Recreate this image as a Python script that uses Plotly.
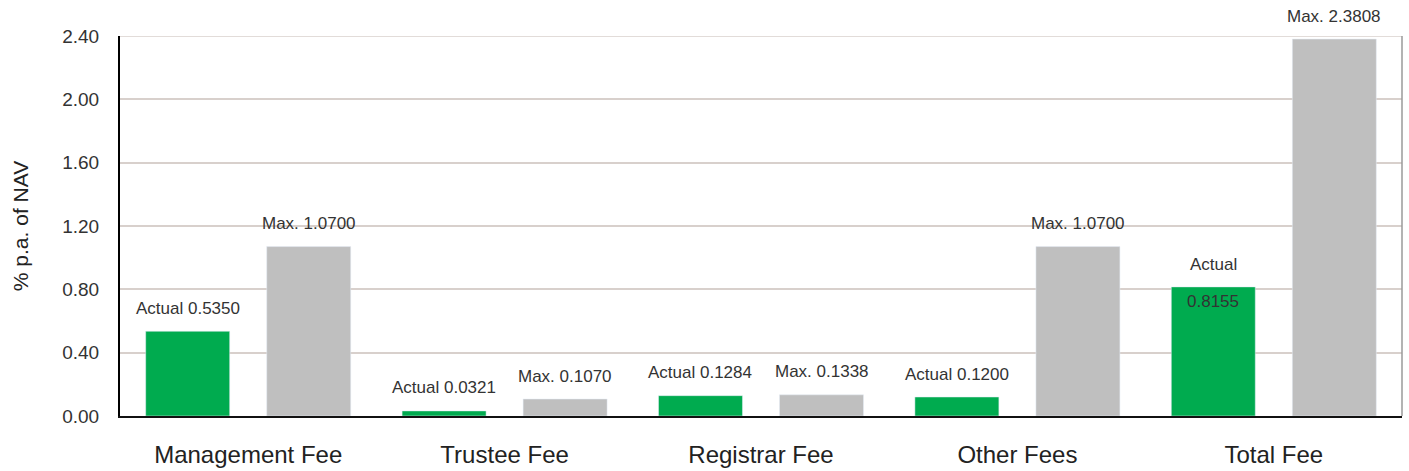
import plotly.graph_objects as go

# Fee categories and rates (% p.a. of NAV)
categories = ["Management Fee", "Trustee Fee", "Registrar Fee", "Other Fees", "Total Fee"]
actual_fees = [0.5350, 0.0321, 0.1284, 0.1200, 0.8155]
max_fees = [1.0700, 0.1070, 0.1338, 1.0700, 2.3808]
y_ticks = [0.0, 0.4, 0.8, 1.2, 1.6, 2.0, 2.4]

GREEN = "#00AB4F"
GREY = "#BFBFBF"
FONT = "Liberation Sans, Arial, sans-serif"
BARGAP = 0.056
BARGROUPGAP = 0.306

fig = go.Figure()
fig.add_trace(go.Bar(x=categories, y=actual_fees, marker_color=GREEN, name="Actual"))
fig.add_trace(go.Bar(x=categories, y=max_fees, marker_color=GREY, name="Max."))

# value labels above each bar
half_slot = (1 - BARGAP) / 4
annotations = []
for i, (a, m) in enumerate(zip(actual_fees, max_fees)):
    if categories[i] == "Total Fee":
        annotations.append(dict(x=i - half_slot, y=a, text="Actual", yshift=22))
        annotations.append(dict(x=i - half_slot, y=a, text=f"{a:.4f}", yshift=-15))
    else:
        annotations.append(dict(x=i - half_slot, y=a, text=f"Actual {a:.4f}", yshift=23))
    annotations.append(dict(x=i + half_slot, y=m, text=f"Max. {m:.4f}", yshift=23))
for ann in annotations:
    ann.update(xref="x", yref="y", showarrow=False, yanchor="middle",
               font=dict(family=FONT, size=17, color="#333333"))

fig.update_layout(
    width=1409, height=471,
    margin=dict(l=120, r=7, t=36, b=55, autoexpand=False),
    paper_bgcolor="white", plot_bgcolor="white",
    barmode="group", bargap=BARGAP, bargroupgap=BARGROUPGAP,
    showlegend=False,
    annotations=annotations,
    shapes=[
        # top gridline and right frame edge
        dict(type="line", xref="paper", yref="y", x0=0, x1=1, y0=2.4, y1=2.4,
             line=dict(color="#D8D0CC", width=1.5)),
        dict(type="line", xref="paper", yref="paper", x0=1, x1=1, y0=0, y1=1,
             line=dict(color="#9a9a9a", width=1.5)),
    ],
)
fig.update_xaxes(
    showline=True, linecolor="#111111", linewidth=2,
    tickfont=dict(family=FONT, size=24, color="#222222"),
    ticks="", showgrid=False, ticklabelstandoff=16, automargin=False,
)
fig.update_yaxes(
    range=[0, 2.4], tickvals=y_ticks, tickformat=".2f",
    showline=True, linecolor="#000000", linewidth=2,
    showgrid=True, gridcolor="#D8D0CC", gridwidth=1.5,
    zeroline=False, ticks="", ticklabelstandoff=15, automargin=False,
    tickfont=dict(family=FONT, size=19, color="#333333"),
    title=dict(text="% p.a. of NAV", standoff=28,
               font=dict(family=FONT, size=21, color="#222222")),
)

fig.write_html("out.html")
